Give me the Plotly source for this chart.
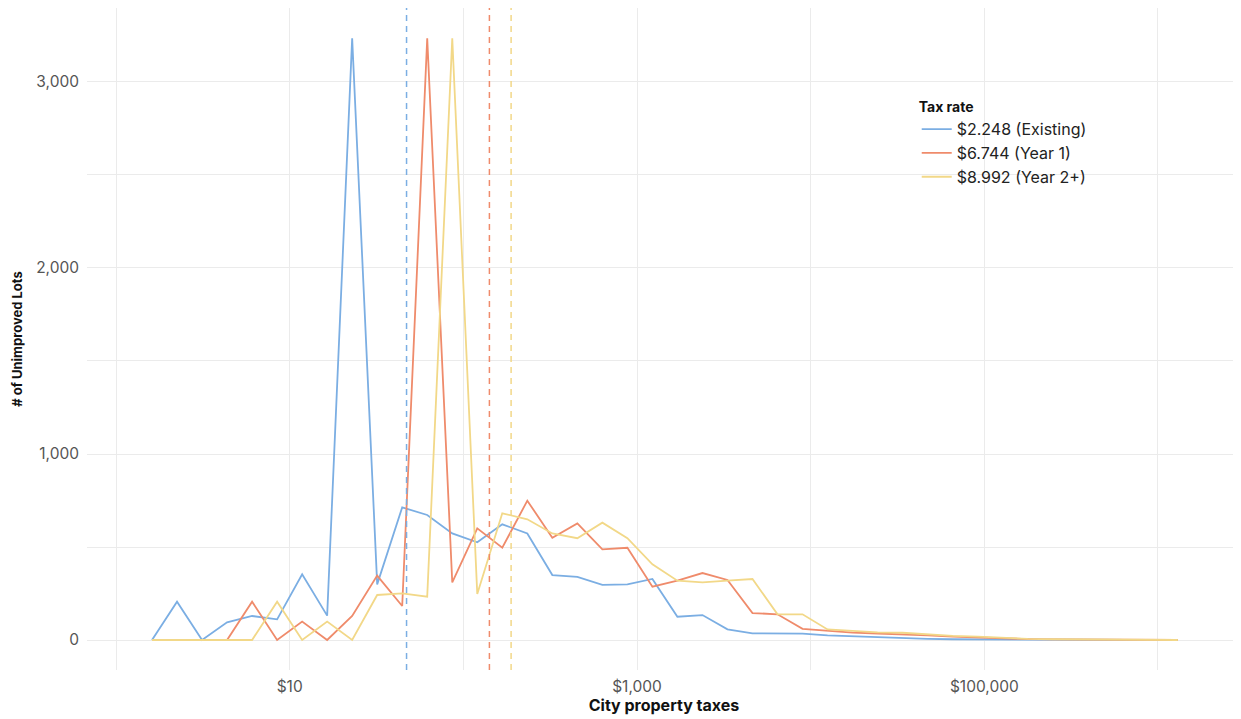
import plotly.graph_objects as go

# Bin centres (city property taxes, $) of the frequency polygon
tax_bins = [1.612, 2.246, 3.129, 4.360, 6.075, 8.467, 11.80, 16.44, 22.90, 31.91,
            44.46, 61.95, 86.35, 120.3, 167.6, 233.6, 325.5, 453.5, 631.9, 880.4,
            1227, 1709, 2382, 3319, 4624, 6444, 8979, 12510, 17430, 24290,
            33840, 47160, 65720, 91550, 127600, 177800, 247600, 345100, 480900, 669900,
            933500, 1301000]

existing = [0, 206, 0, 95, 129, 111, 353, 131, 3235, 299,
            713, 672, 573, 525, 622, 573, 349, 339, 296, 299,
            328, 125, 134, 57, 36, 36, 34, 25, 20, 14,
            9, 6, 4, 3, 2, 1, 1, 0, 0, 0,
            0, 0]

year1 = [0, 0, 0, 0, 206, 0, 99, 0, 129, 346,
         183, 3235, 310, 600, 496, 749, 550, 627, 487, 496,
         287, 319, 360, 323, 145, 138, 60, 48, 40, 35,
         32, 25, 18, 13, 9, 5, 3, 2, 1, 1,
         0, 0]

year2 = [0, 0, 0, 0, 0, 206, 0, 99, 0, 242,
         251, 233, 3235, 247, 681, 649, 573, 547, 631, 547,
         407, 319, 310, 319, 328, 138, 138, 57, 48, 41,
         39, 30, 22, 18, 10, 6, 4, 3, 2, 1,
         1, 0]

series_names = ["$2.248 (Existing)", "$6.744 (Year 1)", "$8.992 (Year 2+)"]
series_colors = ["#7BAEE3", "#EF8B6B", "#F2D888"]
mean_taxes = [47.1, 141.3, 188.4]

x_tickvals = [1, 10, 100, 1000, 10000, 100000, 1000000]
x_ticktext = ["", "$10", "", "$1,000", "", "$100,000", ""]
y_tickvals = [0, 500, 1000, 1500, 2000, 2500, 3000]
y_ticktext = ["0", "", "1,000", "", "2,000", "", "3,000"]

FONT = "Inter"

fig = go.Figure()
for ys, name, col in zip([existing, year1, year2], series_names, series_colors):
    fig.add_trace(go.Scatter(x=tax_bins, y=ys, mode="lines", name=name,
                             line=dict(color=col, width=1.8)))

for v, col in zip(mean_taxes, series_colors):
    fig.add_vline(x=v, line=dict(color=col, width=1.5, dash="6px,5px"))

grid = "#EBEBEB"
fig.update_layout(
    width=1241, height=719,
    margin=dict(l=79, r=8, t=0, b=57, autoexpand=False),
    paper_bgcolor="white", plot_bgcolor="white",
    font=dict(family=FONT, color="#555555"),
    showlegend=True,
    legend=dict(
        title=dict(text="<b>Tax rate</b>", font=dict(size=14, color="#111111", family=FONT)),
        font=dict(size=16, color="#222222", family=FONT),
        x=0.719, y=0.870, xanchor="left", yanchor="top",
        bgcolor="rgba(0,0,0,0)", tracegroupgap=0, itemwidth=30,
    ),
    xaxis=dict(
        type="log", range=[-0.167, 6.478], automargin=False,
        tickmode="array", tickvals=x_tickvals, ticktext=x_ticktext,
        showgrid=True, gridcolor=grid, gridwidth=1.2, zeroline=False, showline=False,
        ticks="", tickfont=dict(size=15.5, color="#555555"), ticklabelstandoff=5,
        title=dict(text="<b>City property taxes</b>", font=dict(size=16, color="#111111"), standoff=4),
    ),
    yaxis=dict(
        range=[-161.3, 3397.8], automargin=False,
        tickmode="array", tickvals=y_tickvals, ticktext=y_ticktext,
        showgrid=True, gridcolor=grid, gridwidth=1.2, zeroline=False, showline=False,
        ticks="", tickfont=dict(size=15.5, color="#555555"), ticklabelstandoff=7,
        title=dict(text="<b># of Unimproved Lots</b>", font=dict(size=13, color="#111111"), standoff=10),
    ),
)

fig.write_html("out.html")
